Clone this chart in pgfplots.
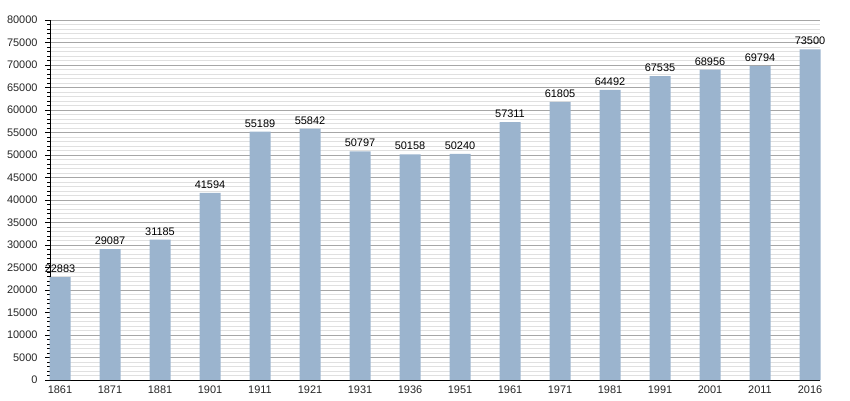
\documentclass[border=0pt]{standalone}
\usepackage{pgfplots}
\pgfplotsset{compat=1.18}
\usepackage{fontspec}
\setmainfont{Liberation Sans}
\definecolor{barc}{RGB}{155,180,206}
\pgfplotstableread{
x y
0 22883
1 29087
2 31185
3 41594
4 55189
5 55842
6 50797
7 50158
8 50240
9 57311
10 61805
11 64492
12 67535
13 68956
14 69794
15 73500
}\datatable
\begin{document}
\begin{tikzpicture}[x=1bp,y=1bp]
\useasboundingbox (0,0) rectangle (850,400);
\begin{axis}[
  at={(50bp,20bp)}, anchor=south west,
  scale only axis, width=770bp, height=360bp,
  xmin=-0.2, xmax=15.2, ymin=0, ymax=80000,
  axis x line*=bottom, axis y line*=left,
  axis line style={black, line width=1bp},
  ytick distance=5000, minor y tick num=4,
  ymajorgrids, yminorgrids,
  major grid style={color=black!35, line width=0.6bp},
  minor grid style={color=black!12, line width=0.6bp},
  xtick={0,...,15},
  xticklabels={1861,1871,1881,1901,1911,1921,1931,1936,1951,1961,1971,1981,1991,2001,2011,2016},
  xtick style={draw=none},
  ytick style={black, line width=0.8bp},
  tick align=outside, major tick length=5bp, minor tick length=3bp,
  scaled y ticks=false,
  /pgf/number format/1000 sep={},
  /pgf/number format/assume math mode=true,
  tick label style={font=\fontsize{11}{13}\selectfont, text=black!85},
  yticklabel style={xshift=-4bp},
  xticklabel style={yshift=3bp},
  point meta=explicit symbolic,
  nodes near coords,
  every node near coord/.append style={font=\fontsize{11}{13}\selectfont, text=black, yshift=1bp},
  clip=false,
]
\addplot[ybar, bar width=21bp, fill=barc, draw=none] table[x=x, y=y, meta=y] {\datatable};
\end{axis}
\end{tikzpicture}
\end{document}
